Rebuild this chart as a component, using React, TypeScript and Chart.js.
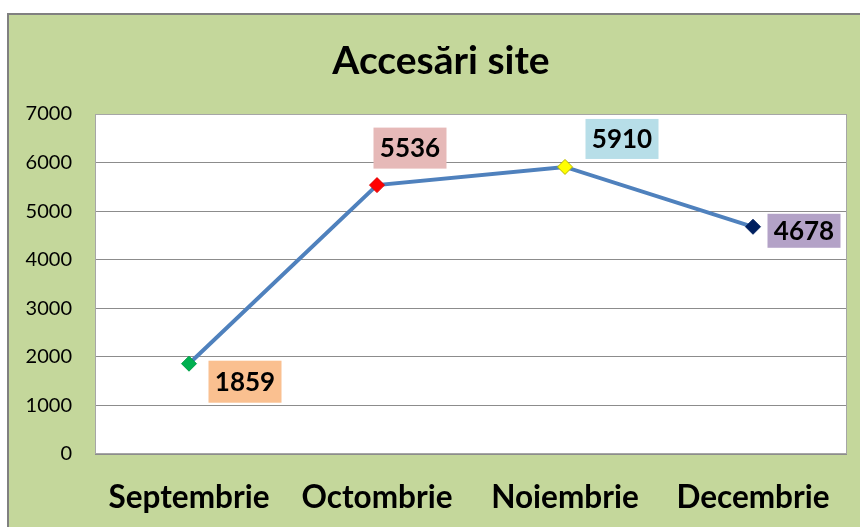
import React, { useEffect, useRef } from "react";
import { Chart, registerables } from "chart.js";

Chart.register(...registerables);

const TITLE = "Accesări site";
const months = ["Septembrie", "Octombrie", "Noiembrie", "Decembrie"];
const visits = [1859, 5536, 5910, 4678];
const yTicks = [0, 1000, 2000, 3000, 4000, 5000, 6000, 7000];

const markerColors = ["#00b050", "#ff0000", "#ffff00", "#002060"];
const markerBorders = ["#00a048", "#e00000", "#b8b800", "#002060"];
const labelBoxColors = ["#fac090", "#e6b9b8", "#b7dee8", "#b3a2c7"];
// label box center offsets relative to the point, and box heights (style only)
const labelOffsets = [
  [56, 18],
  [33, -37],
  [57, -28],
  [51, 4],
];
const labelHeights = [42, 41, 40, 34];

const FONT = "Lato, 'DejaVu Sans', sans-serif";

const framePlugin = {
  id: "frame",
  beforeDraw(chart: any) {
    const { ctx, chartArea, width, height } = chart;
    ctx.save();
    ctx.fillStyle = "#ffffff";
    ctx.fillRect(0, 0, width, height);
    ctx.fillStyle = "#c4d79b";
    ctx.fillRect(7, 13, width, height);
    ctx.fillStyle = "#808080";
    ctx.fillRect(7, 13, width, 2);
    ctx.fillRect(7, 13, 2, height);
    ctx.fillStyle = "#ffffff";
    ctx.fillRect(chartArea.left, chartArea.top, chartArea.right - chartArea.left, chartArea.bottom - chartArea.top);
    // chart title
    ctx.fillStyle = "#000000";
    ctx.font = `bold 39px ${FONT}`;
    ctx.textAlign = "center";
    ctx.textBaseline = "middle";
    ctx.fillText(TITLE, 441, 61);
    ctx.restore();
  },
  afterDraw(chart: any) {
    const { ctx, chartArea } = chart;
    ctx.save();
    ctx.strokeStyle = "#a6a6a6";
    ctx.lineWidth = 1;
    ctx.strokeRect(chartArea.left + 0.5, chartArea.top + 0.5, chartArea.right - chartArea.left - 1, chartArea.bottom - chartArea.top - 1);
    ctx.restore();
  },
};

const labelPlugin = {
  id: "valueLabels",
  afterDatasetsDraw(chart: any) {
    const { ctx } = chart;
    const meta = chart.getDatasetMeta(0);
    ctx.save();
    ctx.font = `bold 26px ${FONT}`;
    ctx.textAlign = "center";
    ctx.textBaseline = "middle";
    meta.data.forEach((pt: any, i: number) => {
      const cx = pt.x + labelOffsets[i][0];
      const cy = pt.y + labelOffsets[i][1];
      const w = 73;
      const h = labelHeights[i];
      ctx.fillStyle = labelBoxColors[i];
      ctx.fillRect(cx - w / 2, cy - h / 2, w, h);
      ctx.fillStyle = "#000000";
      ctx.fillText(String(visits[i]), cx, cy + 1);
    });
    ctx.restore();
  },
};

export default function App() {
  const ref = useRef<HTMLCanvasElement | null>(null);

  useEffect(() => {
    if (!ref.current) return;
    const chart = new Chart(ref.current, {
      type: "line",
      data: {
        labels: months,
        datasets: [
          {
            data: visits,
            borderColor: "#4f81bd",
            borderWidth: 4,
            tension: 0,
            pointStyle: "rectRot",
            pointRadius: 7.5,
            pointBorderWidth: 1,
            pointBackgroundColor: markerColors,
            pointBorderColor: markerBorders,
          },
        ],
      },
      options: {
        responsive: false,
        animation: false,
        devicePixelRatio: 1,
        layout: { padding: { left: 0, top: 114, right: 13, bottom: 0 } },
        plugins: {
          legend: { display: false },
          tooltip: { enabled: false },
          title: { display: false },
        },
        scales: {
          x: {
            offset: true,
            grid: { display: false, drawTicks: false },
            border: { display: false },
            ticks: {
              color: "#000000",
              font: { family: FONT, size: 31.5, weight: "bold" },
              padding: 25,
              maxRotation: 0,
              autoSkip: false,
            },
            afterFit(scale: any) {
              scale.height = 73;
            },
          },
          y: {
            min: 0,
            max: 7000,
            afterBuildTicks(scale: any) {
              scale.ticks = yTicks.map((v) => ({ value: v }));
            },
            grid: { color: "#8c8c8c", lineWidth: 1, drawTicks: false },
            border: { display: false },
            ticks: {
              color: "#000000",
              font: { family: FONT, size: 20 },
              padding: 23,
              callback: (v: any) => String(v),
            },
            afterFit(scale: any) {
              scale.width = 95;
            },
          },
        },
      },
      plugins: [framePlugin, labelPlugin],
    });
    return () => chart.destroy();
  }, []);

  return (
    <div style={{ position: "absolute", left: 0, top: 0, width: 860, height: 527 }}>
      <canvas ref={ref} width={860} height={527} style={{ display: "block" }} />
    </div>
  );
}
